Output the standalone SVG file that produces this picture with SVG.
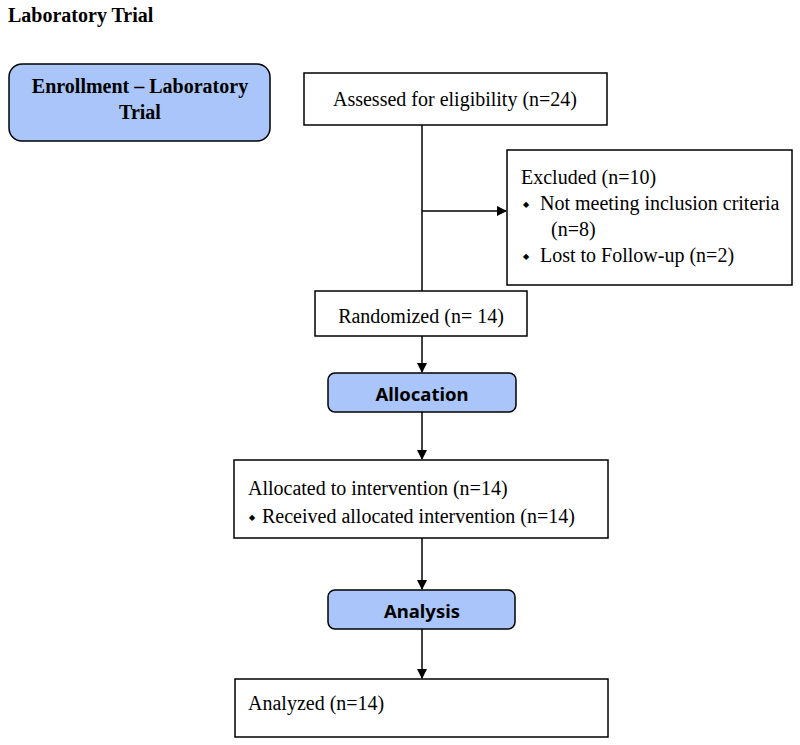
<svg xmlns="http://www.w3.org/2000/svg" width="800" height="745" viewBox="0 0 800 745">
<defs>
<style>
.box{fill:#fff;stroke:#000;stroke-width:1.5}
.hdr{fill:#a9c5f9;stroke:#000;stroke-width:1.5}
.t{font-family:"Liberation Serif","Times New Roman",serif;font-size:20px;fill:#000}
.tb{font-family:"Liberation Serif","Times New Roman",serif;font-size:20px;font-weight:bold;fill:#000}
.sb{font-family:"Noto Sans","DejaVu Sans",sans-serif;font-size:18.5px;font-weight:bold;fill:#000}
.ln{stroke:#000;stroke-width:1.5;fill:none}
.bul{font-family:"DejaVu Sans",sans-serif;font-size:8px;fill:#000}
</style>
<marker id="ah" markerWidth="10" markerHeight="10" refX="9" refY="5" orient="auto" markerUnits="userSpaceOnUse">
<path d="M0,0 L10,5 L0,10 Z" fill="#000"/>
</marker>
</defs>
<rect width="800" height="745" fill="#fff"/>
<text class="tb" x="8" y="22" font-size="19">Laboratory Trial</text>

<g id="connectors">
<line class="ln" x1="422" y1="125" x2="422" y2="291"/>
<line class="ln" x1="422" y1="211" x2="506" y2="211" marker-end="url(#ah)"/>
<line class="ln" x1="422" y1="336" x2="422" y2="372" marker-end="url(#ah)"/>
<line class="ln" x1="422" y1="412" x2="422" y2="459" marker-end="url(#ah)"/>
<line class="ln" x1="422" y1="538" x2="422" y2="589" marker-end="url(#ah)"/>
<line class="ln" x1="422" y1="629" x2="422" y2="678" marker-end="url(#ah)"/>
</g>

<g id="enrollment">
<rect class="hdr" x="9" y="64" width="261" height="77" rx="13"/>
<text class="tb" x="140" y="93" text-anchor="middle">Enrollment – Laboratory</text>
<text class="tb" x="140" y="119" text-anchor="middle">Trial</text>
</g>

<g id="assessed">
<rect class="box" x="304" y="73" width="303" height="52"/>
<text class="t" x="455" y="106" text-anchor="middle">Assessed for eligibility (n=24)</text>
</g>

<g id="excluded">
<rect class="box" x="507" y="150" width="285" height="135"/>
<text class="t" x="521" y="184">Excluded (n=10)</text>
<text class="bul" x="523" y="207">◆</text>
<text class="t" x="540" y="210">Not meeting inclusion criteria</text>
<text class="t" x="551" y="236">(n=8)</text>
<text class="bul" x="523" y="259">◆</text>
<text class="t" x="540" y="262">Lost to Follow-up (n=2)</text>
</g>

<g id="randomized">
<rect class="box" x="315" y="291" width="212" height="45"/>
<text class="t" x="421" y="323" text-anchor="middle">Randomized (n= 14)</text>
</g>

<g id="allocation">
<rect class="hdr" x="328" y="373" width="188" height="39" rx="7"/>
<text class="sb" x="422" y="401" text-anchor="middle">Allocation</text>
</g>

<g id="allocated">
<rect class="box" x="234" y="460" width="374" height="78"/>
<text class="t" x="248" y="495">Allocated to intervention (n=14)</text>
<text class="bul" x="249" y="520">◆</text>
<text class="t" x="262" y="523">Received allocated intervention (n=14)</text>
</g>

<g id="analysis">
<rect class="hdr" x="328" y="590" width="187" height="39" rx="7"/>
<text class="sb" x="422" y="618" text-anchor="middle">Analysis</text>
</g>

<g id="analyzed">
<rect class="box" x="235" y="679" width="373" height="58"/>
<text class="t" x="248" y="710">Analyzed (n=14)</text>
</g>
</svg>
